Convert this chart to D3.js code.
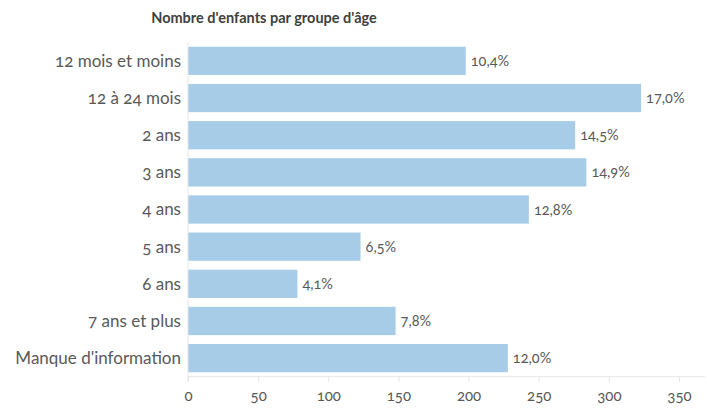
<!DOCTYPE html>
<html>
<head>
<meta charset="utf-8">
<script src="https://cdn.jsdelivr.net/npm/d3@7"></script>
<style>
  body { margin: 0; background: #fff; }
  svg text { font-family: Lato, "Open Sans", sans-serif; font-variant-numeric: oldstyle-nums; }
</style>
</head>
<body>
<div id="chart"></div>
<script>
// data
var categories = ["12 mois et moins", "12 à 24 mois", "2 ans", "3 ans", "4 ans", "5 ans", "6 ans", "7 ans et plus", "Manque d'information"];
var counts = [198, 323, 276, 284, 243, 123, 78, 148, 228];
var percentLabels = ["10,4%", "17,0%", "14,5%", "14,9%", "12,8%", "6,5%", "4,1%", "7,8%", "12,0%"];
var xTicks = [0, 50, 100, 150, 200, 250, 300, 350];

var chartWidth = 707, chartHeight = 408;
var plotLeft = 188, plotRight = 679, plotTop = 42.3, plotBottom = 376.7;

var svg = d3.select("#chart")
  .append("svg")
  .attr("width", chartWidth)
  .attr("height", chartHeight);

// title
svg.append("text")
  .text("Nombre d'enfants par groupe d'âge")
  .attr("x", 264)
  .attr("y", 23)
  .attr("text-anchor", "middle")
  .style("font-size", "14.5px")
  .style("font-weight", "bold")
  .style("fill", "#404040");

var x = d3.scaleLinear()
  .domain([0, 350])
  .range([plotLeft, plotRight]);

var y = d3.scaleBand()
  .domain(categories)
  .range([plotTop, plotBottom])
  .paddingInner(0.24)
  .paddingOuter(0.12);

// bars
svg.append("g")
  .selectAll("rect")
  .data(counts)
  .enter()
  .append("rect")
  .attr("x", x(0))
  .attr("y", function(d, i) { return y(categories[i]); })
  .attr("width", function(d) { return x(d) - x(0); })
  .attr("height", y.bandwidth())
  .style("fill", "#a6cce8");

// vertical axis line
svg.append("line")
  .attr("x1", x(0)).attr("x2", x(0))
  .attr("y1", plotTop).attr("y2", plotBottom + 5)
  .style("stroke", "#e6e6e6");

// horizontal axis line
svg.append("line")
  .attr("x1", x(0)).attr("x2", 705)
  .attr("y1", plotBottom).attr("y2", plotBottom)
  .style("stroke", "#e6e6e6");

// category labels
svg.append("g")
  .selectAll("text")
  .data(categories)
  .enter()
  .append("text")
  .text(function(d) { return d; })
  .attr("x", 181)
  .attr("y", function(d) { return y(d) + y.bandwidth() / 2; })
  .attr("dy", "0.35em")
  .attr("text-anchor", "end")
  .style("font-size", "17px")
  .style("fill", "#595959");

// value labels
svg.append("g")
  .selectAll("text")
  .data(counts)
  .enter()
  .append("text")
  .text(function(d, i) { return percentLabels[i]; })
  .attr("x", function(d) { return x(d) + 5; })
  .attr("y", function(d, i) { return y(categories[i]) + y.bandwidth() / 2; })
  .attr("dy", "0.35em")
  .style("font-size", "14.5px")
  .style("fill", "#595959");

// x axis ticks
var xAxis = svg.append("g")
  .attr("transform", "translate(0," + plotBottom + ")")
  .call(d3.axisBottom(x).tickValues(xTicks).tickSize(5).tickPadding(9).tickFormat(d3.format("d")));

xAxis.select(".domain").remove();
xAxis.selectAll(".tick line").style("stroke", "#e6e6e6");
xAxis.selectAll(".tick text")
  .style("font-size", "15px")
  .style("fill", "#595959");
</script>
</body>
</html>
